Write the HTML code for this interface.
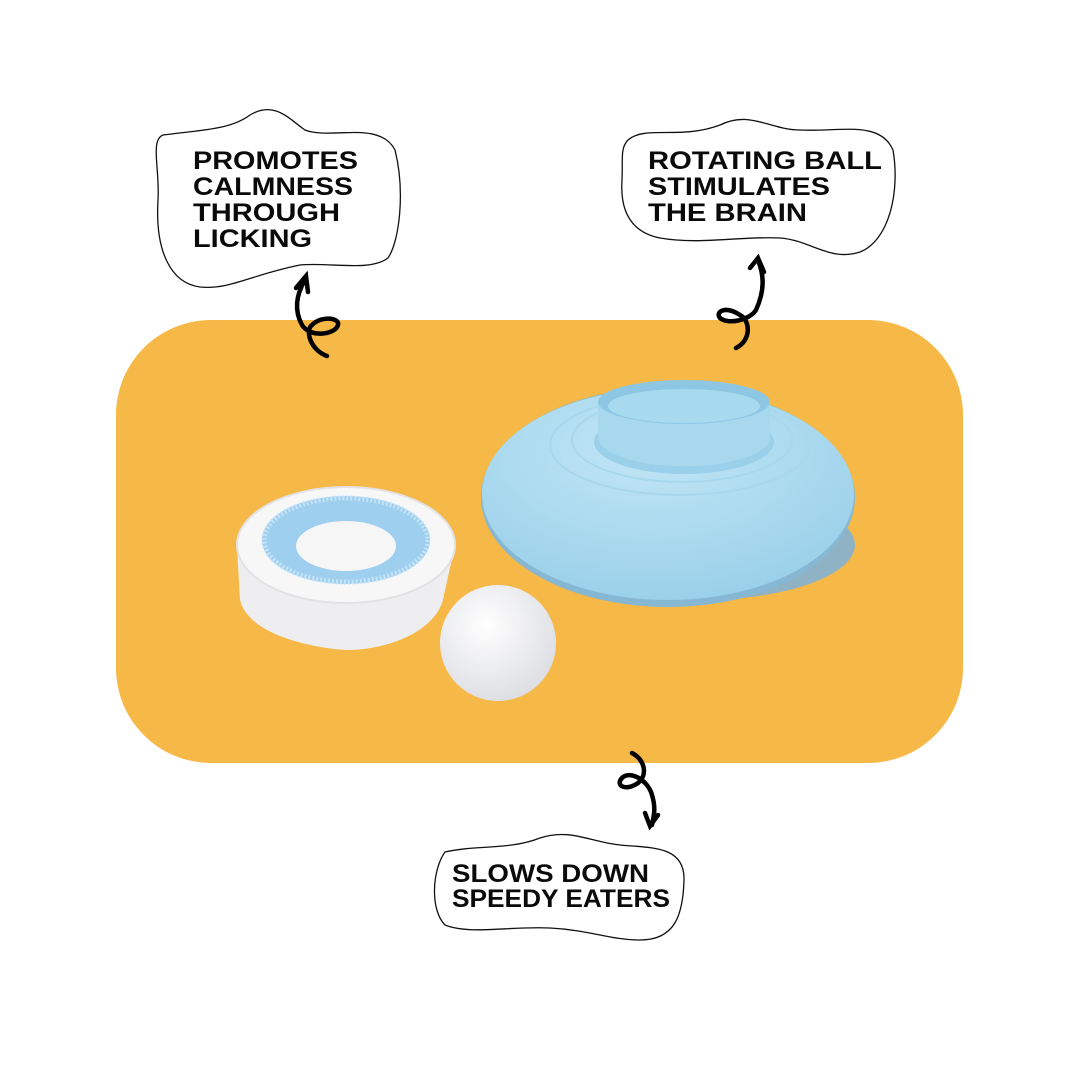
<!DOCTYPE html>
<html><head><meta charset="utf-8"><style>
html,body{margin:0;padding:0;background:#fff}
svg{display:block}
text{font-family:"Liberation Sans",sans-serif;font-weight:bold;font-size:25px;fill:#0a0a0a}
</style></head><body>
<svg width="1080" height="1080" viewBox="0 0 1080 1080">
<defs>
<radialGradient id="dish" cx="0.45" cy="0.3" r="0.75">
<stop offset="0" stop-color="#c2e6f6"/><stop offset="1" stop-color="#98cfe9"/></radialGradient>
<radialGradient id="ball" cx="0.4" cy="0.35" r="0.7">
<stop offset="0" stop-color="#ffffff"/><stop offset="1" stop-color="#dcdde2"/></radialGradient>
</defs>
<rect x="116" y="320" width="847" height="443" rx="95" fill="#F6B847"/>

<path d="M163,135 C200,130 230,130 250,115 C275,100 290,120 305,130 C330,140 380,120 395,150 C405,190 400,240 388,258 C370,272 330,262 300,265 C250,275 230,290 200,287 C170,283 155,250 158,200 C160,170 150,140 163,135 Z" fill="#fff" stroke="#111" stroke-width="1.3"/>
<path d="M628,140 C645,125 680,140 720,125 C750,110 770,130 800,130 C840,132 880,120 893,150 C900,190 890,240 860,252 C830,262 810,240 780,238 C740,236 700,245 660,238 C630,232 620,210 622,180 C623,160 620,148 628,140 Z" fill="#fff" stroke="#111" stroke-width="1.3"/>
<path d="M445,852 C475,845 510,850 540,838 C570,828 590,842 620,845 C650,848 685,845 684,880 C683,915 675,940 640,940 C610,940 590,930 550,928 C510,926 470,935 445,925 C430,910 432,870 445,852 Z" fill="#fff" stroke="#111" stroke-width="1.3"/>

<text x="193" y="169" textLength="165" lengthAdjust="spacingAndGlyphs">PROMOTES</text>
<text x="193" y="195" textLength="160" lengthAdjust="spacingAndGlyphs">CALMNESS</text>
<text x="193" y="221" textLength="147" lengthAdjust="spacingAndGlyphs">THROUGH</text>
<text x="193" y="247" textLength="119" lengthAdjust="spacingAndGlyphs">LICKING</text>
<text x="648" y="169" textLength="234" lengthAdjust="spacingAndGlyphs">ROTATING BALL</text>
<text x="648" y="195" textLength="182" lengthAdjust="spacingAndGlyphs">STIMULATES</text>
<text x="648" y="221" textLength="159" lengthAdjust="spacingAndGlyphs">THE BRAIN</text>
<text x="452" y="882" textLength="197" lengthAdjust="spacingAndGlyphs">SLOWS DOWN</text>
<text x="452" y="907" textLength="218" lengthAdjust="spacingAndGlyphs">SPEEDY EATERS</text>

<g fill="none" stroke="#000" stroke-width="4.5" stroke-linecap="round">
<path d="M327,356 C310,350 305,330 312,325 C322,315 340,318 338,325 C335,335 310,338 302,325 C294,310 296,295 305,280"/>
<path d="M296,288 L306,276 L308,292"/>
<path d="M736,348 C752,340 750,320 740,315 C725,305 715,312 720,318 C728,325 750,320 756,310 C765,290 764,275 758,260"/>
<path d="M750,268 L758,258 L764,272"/>
<path d="M632,753 C645,760 648,775 638,783 C625,792 615,785 622,778 C630,770 648,780 652,795 C656,808 654,815 652,825"/>
<path d="M645,813 L650,826 L658,815"/>
</g>

<!-- dish -->
<ellipse cx="700" cy="545" rx="155" ry="55" fill="#8fb3c4"/>
<ellipse cx="668" cy="497" rx="187" ry="110" fill="#86b7d3"/>
<ellipse cx="668" cy="494" rx="186" ry="106" fill="url(#dish)"/>
<ellipse cx="680" cy="445" rx="130" ry="50" fill="none" stroke="#a9d7ec" stroke-width="2"/>
<ellipse cx="682" cy="440" rx="110" ry="42" fill="none" stroke="#a9d7ec" stroke-width="2"/>
<ellipse cx="684" cy="442" rx="90" ry="32" fill="#9ad0ea"/>
<path d="M598,402 L598,440 C615,475 755,475 770,440 L770,402 Z" fill="#a8d8ee"/>
<ellipse cx="684" cy="402" rx="86" ry="22" fill="#8ec7e3"/>
<ellipse cx="684" cy="406" rx="76" ry="17" fill="#a7d9ef"/>
<!-- ring -->
<path d="M237,548 L240,600 C250,640 330,650 350,650 C400,648 440,625 444,595 L455,545 Z" fill="#eeeef0"/>
<ellipse cx="346" cy="545" rx="109" ry="58" fill="#f7f7f8" stroke="#e2e2e4" stroke-width="2"/>
<ellipse cx="346" cy="540" rx="84" ry="44" fill="#9fcfef"/>
<ellipse cx="346" cy="540" rx="82" ry="42" fill="none" stroke="#c4e3f6" stroke-width="5" stroke-dasharray="2 2"/>
<ellipse cx="346" cy="546" rx="50" ry="25" fill="#f6f6f7"/>
<circle cx="498" cy="643" r="58" fill="url(#ball)"/>
</svg>
</body></html>
